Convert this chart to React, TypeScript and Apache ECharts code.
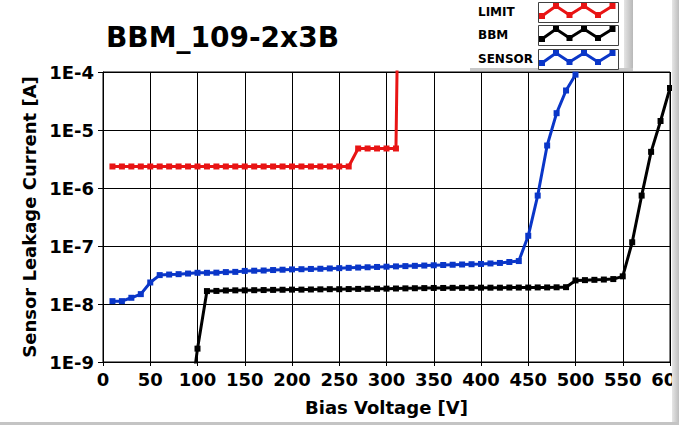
import React, { useEffect, useRef } from "react";
import * as echarts from "echarts";

const TITLE = "BBM_109-2x3B";
const X_NAME = "Bias Voltage [V]";
const Y_NAME = "Sensor Leakage Current [A]";
const SERIES_NAMES = ["LIMIT", "BBM", "SENSOR"];
const SERIES_COLORS = ["#e81414", "#000000", "#0a36c8"];

const LIMIT_V = [10, 20, 30, 40, 50, 60, 70, 80, 90, 100, 110, 120, 130, 140, 150, 160, 170, 180, 190, 200, 210, 220, 230, 240, 250, 260, 270, 280, 290, 300, 310, 312];
const LIMIT_I = [
  2.35e-6, 2.35e-6, 2.35e-6, 2.35e-6, 2.35e-6, 2.35e-6, 2.35e-6, 2.35e-6, 2.35e-6, 2.35e-6,
  2.35e-6, 2.35e-6, 2.35e-6, 2.35e-6, 2.35e-6, 2.35e-6, 2.35e-6, 2.35e-6, 2.35e-6, 2.35e-6,
  2.35e-6, 2.35e-6, 2.35e-6, 2.35e-6, 2.35e-6, 2.35e-6,
  4.8e-6, 4.8e-6, 4.8e-6, 4.8e-6, 4.8e-6, 1e-3,
];

const BBM_V = [90, 100, 110, 120, 130, 140, 150, 160, 170, 180, 190, 200, 210, 220, 230, 240, 250, 260, 270, 280, 290, 300, 310, 320, 330, 340, 350, 360, 370, 380, 390, 400, 410, 420, 430, 440, 450, 460, 470, 480, 490, 500, 510, 520, 530, 540, 550, 560, 570, 580, 590, 600];
const BBM_I = [
  1.0e-10, 1.7e-9, 1.67e-8, 1.68e-8, 1.71e-8, 1.72e-8, 1.72e-8, 1.73e-8, 1.74e-8, 1.75e-8,
  1.76e-8, 1.77e-8, 1.77e-8, 1.78e-8, 1.79e-8, 1.8e-8, 1.8e-8, 1.81e-8, 1.82e-8, 1.83e-8,
  1.83e-8, 1.84e-8, 1.85e-8, 1.86e-8, 1.87e-8, 1.88e-8, 1.89e-8, 1.89e-8, 1.9e-8, 1.9e-8,
  1.9e-8, 1.91e-8, 1.91e-8, 1.91e-8, 1.92e-8, 1.92e-8, 1.92e-8, 1.93e-8, 1.93e-8, 1.94e-8,
  1.95e-8, 2.55e-8, 2.58e-8, 2.61e-8, 2.64e-8, 2.69e-8, 3.0e-8, 1.16e-7, 7.4e-7, 4.2e-6,
  1.43e-5, 5.3e-5,
];

const SENSOR_V = [10, 20, 30, 40, 50, 60, 70, 80, 90, 100, 110, 120, 130, 140, 150, 160, 170, 180, 190, 200, 210, 220, 230, 240, 250, 260, 270, 280, 290, 300, 310, 320, 330, 340, 350, 360, 370, 380, 390, 400, 410, 420, 430, 440, 450, 460, 470, 480, 490, 500];
const SENSOR_I = [
  1.12e-8, 1.12e-8, 1.28e-8, 1.48e-8, 2.35e-8, 3.15e-8, 3.22e-8, 3.27e-8, 3.35e-8, 3.45e-8,
  3.45e-8, 3.47e-8, 3.55e-8, 3.58e-8, 3.72e-8, 3.75e-8, 3.78e-8, 3.85e-8, 3.9e-8, 3.95e-8,
  3.98e-8, 4.02e-8, 4.05e-8, 4.1e-8, 4.15e-8, 4.2e-8, 4.25e-8, 4.3e-8, 4.35e-8, 4.4e-8,
  4.45e-8, 4.5e-8, 4.55e-8, 4.6e-8, 4.65e-8, 4.7e-8, 4.75e-8, 4.8e-8, 4.85e-8, 4.9e-8,
  5.0e-8, 5.1e-8, 5.3e-8, 5.5e-8, 1.5e-7, 7.4e-7, 5.4e-6, 1.95e-5, 4.8e-5, 9.0e-5,
];

const X_MIN = 0;
const X_MAX = 600;
const X_STEP = 50;
const Y_MIN = 1e-9;
const Y_MAX = 1e-4;

// legend sample zig-zag (relative offsets inside each sample box)
const ZIG_X = [4, 18, 31.5, 46, 60, 74.5];
const ZIG_Y = [14, 4, 13, 4, 13, 4];
const LEGEND_ROW_TOP = [2, 25, 49];

const FONT = '"DejaVu Sans", Verdana, sans-serif';

function buildLegend(): any[] {
  const els: any[] = [];
  const boxX = 538;
  const boxW = 80;
  const boxH = 20;
  els.push({
    type: "rect",
    z: 90,
    shape: { x: 624, y: 0, width: 9, height: 71 },
    style: {
      fill: new echarts.graphic.LinearGradient(0, 0, 1, 0, [
        { offset: 0, color: "#e4e4e4" },
        { offset: 1, color: "#b8b8b8" },
      ]),
    },
  });
  els.push({
    type: "rect",
    z: 90,
    shape: { x: 470, y: 68, width: 163, height: 3 },
    style: { fill: "#c8c8c8" },
  });
  SERIES_NAMES.forEach((name, i) => {
    const top = LEGEND_ROW_TOP[i];
    const color = SERIES_COLORS[i];
    els.push({
      type: "text",
      z: 91,
      x: 478,
      y: top + 10,
      style: {
        text: name,
        font: `bold 12px ${FONT}`,
        fill: "#000",
        align: "left",
        verticalAlign: "middle",
      },
    });
    els.push({
      type: "rect",
      z: 91,
      shape: { x: boxX + 0.5, y: top + 0.5, width: boxW, height: boxH },
      style: { fill: "#fff", stroke: "#404040", lineWidth: 1 },
    });
    const pts = ZIG_X.map((dx, k) => [boxX + dx, top + ZIG_Y[k]]);
    els.push({
      type: "polyline",
      z: 92,
      shape: { points: pts },
      style: { stroke: color, lineWidth: 3, fill: null },
    });
    pts.forEach((p) => {
      els.push({
        type: "rect",
        z: 93,
        shape: { x: p[0] - 3, y: p[1] - 3, width: 6, height: 6 },
        style: { fill: color },
      });
    });
  });
  return els;
}

export default function App() {
  const ref = useRef<HTMLDivElement>(null);

  useEffect(() => {
    if (!ref.current) return;
    const chart = echarts.init(ref.current, undefined, { renderer: "svg" });

    const mk = (xs: number[], ys: number[]) => xs.map((x, i) => [x, ys[i]]);
    const seriesData = [mk(LIMIT_V, LIMIT_I), mk(BBM_V, BBM_I), mk(SENSOR_V, SENSOR_I)];

    const option: any = {
      animation: false,
      backgroundColor: "#ffffff",
      grid: {
        left: 103,
        right: 9,
        top: 72,
        bottom: 63,
        show: true,
        borderColor: "#000",
        borderWidth: 1,
        containLabel: false,
        outerBoundsMode: "none",
      },
      xAxis: {
        type: "value",
        min: X_MIN,
        max: X_MAX,
        interval: X_STEP,
        name: X_NAME,
        nameLocation: "middle",
        nameGap: 36,
        nameTextStyle: { fontFamily: FONT, fontWeight: "bold", fontSize: 18, color: "#000" },
        axisLine: { show: true, lineStyle: { color: "#000", width: 1 } },
        axisTick: { show: true, inside: false, length: 4, lineStyle: { color: "#000" } },
        axisLabel: {
          show: true,
          margin: 8,
          fontFamily: FONT,
          fontWeight: "bold",
          fontSize: 18,
          color: "#000",
          showMaxLabel: true,
          showMinLabel: true,
          hideOverlap: false,
        },
        splitLine: { show: true, lineStyle: { color: "#000", width: 1 } },
      },
      yAxis: {
        type: "log",
        logBase: 10,
        min: Y_MIN,
        max: Y_MAX,
        name: Y_NAME,
        nameLocation: "middle",
        nameGap: 60,
        nameTextStyle: { fontFamily: FONT, fontWeight: "bold", fontSize: 18, color: "#000" },
        axisLine: { show: true, lineStyle: { color: "#000", width: 1 } },
        axisTick: { show: true, inside: false, length: 5, lineStyle: { color: "#000" } },
        axisLabel: {
          margin: 9,
          fontFamily: FONT,
          fontWeight: "bold",
          fontSize: 18,
          color: "#000",
          formatter: (v: number) => "1E" + Math.round(Math.log10(v)),
        },
        splitLine: { show: true, lineStyle: { color: "#000", width: 1 } },
        minorTick: { show: false },
      },
      series: SERIES_NAMES.map((name, i) => ({
        name,
        type: "line",
        data: seriesData[i],
        symbol: "rect",
        symbolSize: 6,
        showSymbol: true,
        clip: true,
        lineStyle: { color: SERIES_COLORS[i], width: 3 },
        itemStyle: { color: SERIES_COLORS[i] },
        emphasis: { disabled: true },
        z: 3 + i,
      })),
      graphic: [
        {
          type: "text",
          x: 106,
          y: 37,
          z: 50,
          style: {
            text: TITLE,
            font: `bold 28px ${FONT}`,
            fill: "#000",
            align: "left",
            verticalAlign: "middle",
          },
        },
        ...buildLegend(),
        {
          type: "rect",
          z: 100,
          shape: { x: 672, y: 0, width: 7, height: 425 },
          style: {
            fill: new echarts.graphic.LinearGradient(0, 0, 1, 0, [
              { offset: 0, color: "#e6e6e6" },
              { offset: 1, color: "#bdbdbd" },
            ]),
          },
        },
        {
          type: "rect",
          z: 100,
          shape: { x: 0, y: 422, width: 679, height: 3 },
          style: { fill: "#c4c4c4" },
        },
      ],
    };

    chart.setOption(option);
    return () => chart.dispose();
  }, []);

  return (
    <div
      ref={ref}
      style={{ position: "absolute", left: 0, top: 0, width: 679, height: 425, background: "#fff" }}
    />
  );
}
